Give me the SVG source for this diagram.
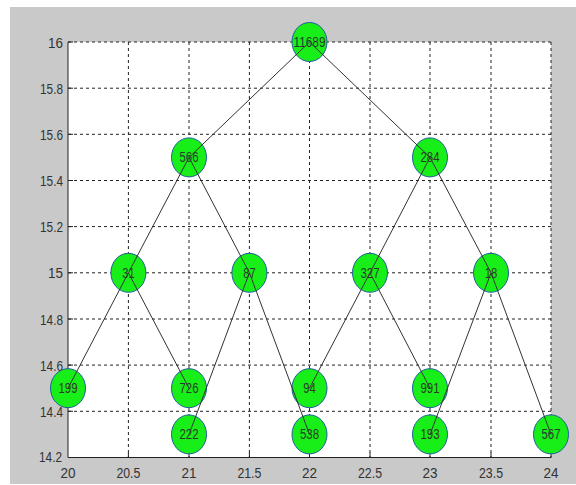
<svg xmlns="http://www.w3.org/2000/svg" width="576" height="485" viewBox="0 0 576 485">
<style>
.grid{stroke:#222;stroke-width:1;stroke-dasharray:3,3;fill:none}
.axis{stroke:#222;stroke-width:1;fill:none}
.tick{font-family:"Liberation Sans",Arial,sans-serif;font-size:15px;fill:#333}
.node ellipse{fill:#18ee18;stroke:#1f5f9a;stroke-width:1}
.node text{font-family:"Liberation Sans",Arial,sans-serif;font-size:14px;fill:#2a3a2a;text-anchor:middle}
.edge{stroke:#333;stroke-width:1;fill:none}
</style>
<rect x="0" y="0" width="576" height="485" fill="#ffffff"/>
<rect x="10" y="7" width="566" height="477" fill="#c9c9c9"/>
<rect x="68" y="42" width="483" height="415.5" fill="#ffffff"/>
<g id="grid">
<path class="grid" d="M68 42H551M68 88.2H551M68 134.3H551M68 180.5H551M68 226.6H551M68 272.8H551M68 319H551M68 365.1H551M68 411.3H551"/>
<path class="grid" d="M128.4 42V457.5M189 42V457.5M249.4 42V457.5M309.5 42V457.5M370 42V457.5M430 42V457.5M491 42V457.5M551 42V457.5"/>
</g>
<g id="axes">
<path class="axis" d="M68 42V457.5H551"/>
<path class="axis" d="M68 42h5M68 88.2h5M68 134.3h5M68 180.5h5M68 226.6h5M68 272.8h5M68 319h5M68 365.1h5M68 411.3h5M128.4 457.5v-5M189 457.5v-5M249.4 457.5v-5M309.5 457.5v-5M370 457.5v-5M430 457.5v-5M491 457.5v-5M551 457.5v-5"/>
<g class="tick" text-anchor="end">
<text x="63" y="47.5" textLength="15" lengthAdjust="spacingAndGlyphs">16</text>
<text x="63" y="93.7" textLength="23" lengthAdjust="spacingAndGlyphs">15.8</text>
<text x="63" y="139.8" textLength="23" lengthAdjust="spacingAndGlyphs">15.6</text>
<text x="63" y="186" textLength="23" lengthAdjust="spacingAndGlyphs">15.4</text>
<text x="63" y="232.1" textLength="23" lengthAdjust="spacingAndGlyphs">15.2</text>
<text x="63" y="278.3" textLength="15" lengthAdjust="spacingAndGlyphs">15</text>
<text x="63" y="324.5" textLength="23" lengthAdjust="spacingAndGlyphs">14.8</text>
<text x="63" y="370.6" textLength="23" lengthAdjust="spacingAndGlyphs">14.6</text>
<text x="63" y="416.8" textLength="23" lengthAdjust="spacingAndGlyphs">14.4</text>
<text x="62" y="462" textLength="23" lengthAdjust="spacingAndGlyphs">14.2</text>
</g>
<g class="tick" text-anchor="middle">
<text x="68" y="478" textLength="15" lengthAdjust="spacingAndGlyphs">20</text>
<text x="128.4" y="478" textLength="24" lengthAdjust="spacingAndGlyphs">20.5</text>
<text x="189" y="478" textLength="15" lengthAdjust="spacingAndGlyphs">21</text>
<text x="249.4" y="478" textLength="24" lengthAdjust="spacingAndGlyphs">21.5</text>
<text x="309.5" y="478" textLength="15" lengthAdjust="spacingAndGlyphs">22</text>
<text x="370" y="478" textLength="24" lengthAdjust="spacingAndGlyphs">22.5</text>
<text x="430" y="478" textLength="15" lengthAdjust="spacingAndGlyphs">23</text>
<text x="491" y="478" textLength="24" lengthAdjust="spacingAndGlyphs">23.5</text>
<text x="551" y="478" textLength="15" lengthAdjust="spacingAndGlyphs">24</text>
</g>
</g>
<g id="n11689" class="node"><ellipse cx="309.5" cy="42" rx="17.5" ry="19.5"/><text x="309.5" y="47" textLength="32" lengthAdjust="spacingAndGlyphs">11689</text></g>
<g id="n566" class="node"><ellipse cx="189" cy="157.4" rx="17.5" ry="19.5"/><text x="189" y="162.4" textLength="19" lengthAdjust="spacingAndGlyphs">566</text></g>
<g id="n284" class="node"><ellipse cx="430" cy="157.4" rx="17.5" ry="19.5"/><text x="430" y="162.4" textLength="19" lengthAdjust="spacingAndGlyphs">284</text></g>
<g id="n31" class="node"><ellipse cx="128.4" cy="272.8" rx="17.5" ry="19.5"/><text x="128.4" y="277.8" textLength="12.5" lengthAdjust="spacingAndGlyphs">31</text></g>
<g id="n87" class="node"><ellipse cx="249.4" cy="272.8" rx="17.5" ry="19.5"/><text x="249.4" y="277.8" textLength="12.5" lengthAdjust="spacingAndGlyphs">87</text></g>
<g id="n327" class="node"><ellipse cx="370" cy="272.8" rx="17.5" ry="19.5"/><text x="370" y="277.8" textLength="19" lengthAdjust="spacingAndGlyphs">327</text></g>
<g id="n18" class="node"><ellipse cx="491" cy="272.8" rx="17.5" ry="19.5"/><text x="491" y="277.8" textLength="12.5" lengthAdjust="spacingAndGlyphs">18</text></g>
<g id="n199" class="node"><ellipse cx="68" cy="388.2" rx="17.5" ry="19.5"/><text x="68" y="393.2" textLength="19" lengthAdjust="spacingAndGlyphs">199</text></g>
<g id="n726" class="node"><ellipse cx="189" cy="388.2" rx="17.5" ry="19.5"/><text x="189" y="393.2" textLength="19" lengthAdjust="spacingAndGlyphs">726</text></g>
<g id="n94" class="node"><ellipse cx="309.5" cy="388.2" rx="17.5" ry="19.5"/><text x="309.5" y="393.2" textLength="12.5" lengthAdjust="spacingAndGlyphs">94</text></g>
<g id="n991" class="node"><ellipse cx="430" cy="388.2" rx="17.5" ry="19.5"/><text x="430" y="393.2" textLength="19" lengthAdjust="spacingAndGlyphs">991</text></g>
<g id="n222" class="node"><ellipse cx="189" cy="434.4" rx="17.5" ry="19.5"/><text x="189" y="439.4" textLength="19" lengthAdjust="spacingAndGlyphs">222</text></g>
<g id="n538" class="node"><ellipse cx="309.5" cy="434.4" rx="17.5" ry="19.5"/><text x="309.5" y="439.4" textLength="19" lengthAdjust="spacingAndGlyphs">538</text></g>
<g id="n193" class="node"><ellipse cx="430" cy="434.4" rx="17.5" ry="19.5"/><text x="430" y="439.4" textLength="19" lengthAdjust="spacingAndGlyphs">193</text></g>
<g id="n567" class="node"><ellipse cx="551" cy="434.4" rx="17.5" ry="19.5"/><text x="551" y="439.4" textLength="19" lengthAdjust="spacingAndGlyphs">567</text></g>
<g id="connectors" class="edge">
<line x1="309.5" y1="42" x2="189" y2="157.4"/>
<line x1="309.5" y1="42" x2="430" y2="157.4"/>
<line x1="189" y1="157.4" x2="128.4" y2="272.8"/>
<line x1="189" y1="157.4" x2="249.4" y2="272.8"/>
<line x1="430" y1="157.4" x2="370" y2="272.8"/>
<line x1="430" y1="157.4" x2="491" y2="272.8"/>
<line x1="128.4" y1="272.8" x2="68" y2="388.2"/>
<line x1="128.4" y1="272.8" x2="189" y2="388.2"/>
<line x1="249.4" y1="272.8" x2="189" y2="434.4"/>
<line x1="249.4" y1="272.8" x2="309.5" y2="434.4"/>
<line x1="370" y1="272.8" x2="309.5" y2="388.2"/>
<line x1="370" y1="272.8" x2="430" y2="388.2"/>
<line x1="491" y1="272.8" x2="430" y2="434.4"/>
<line x1="491" y1="272.8" x2="551" y2="434.4"/>
</g>
</svg>
